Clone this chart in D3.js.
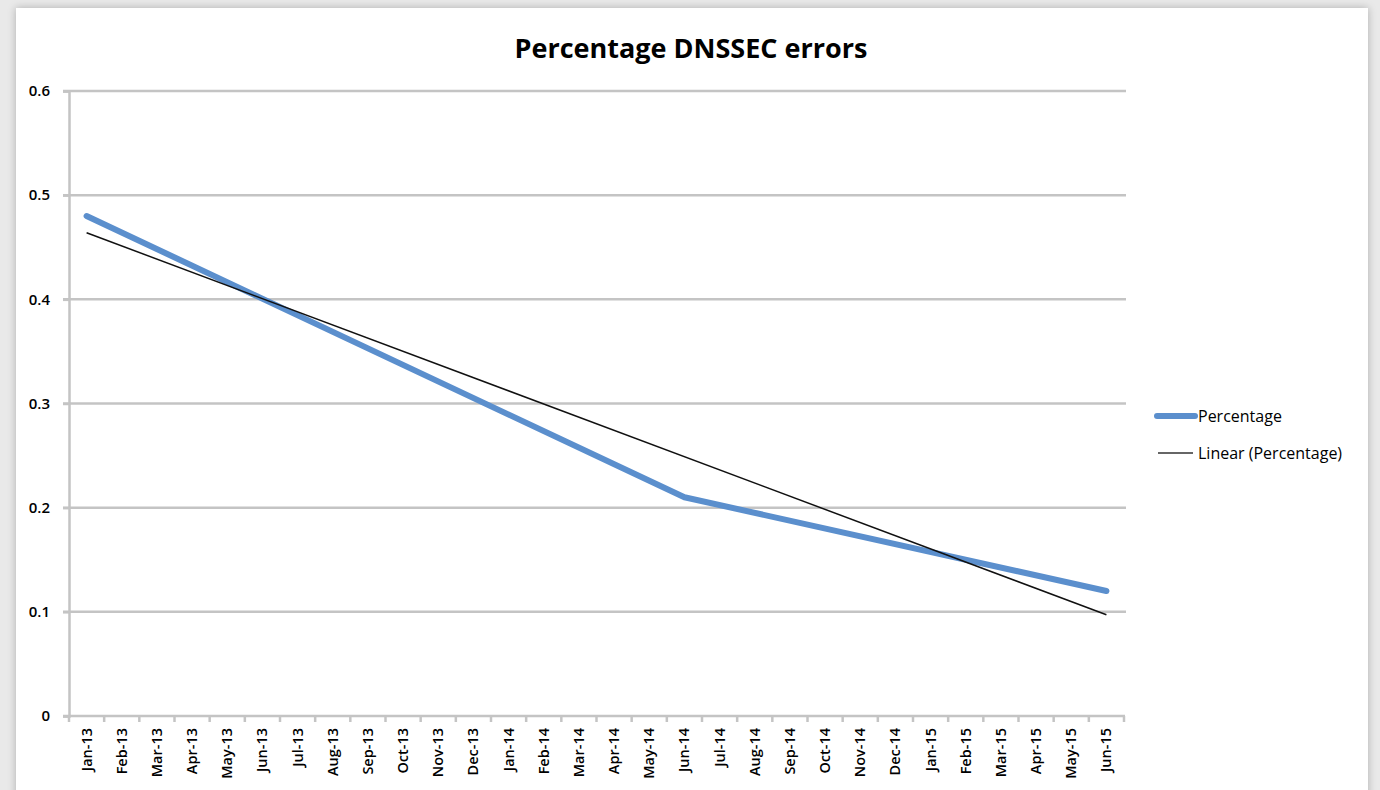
<!DOCTYPE html>
<html>
<head>
<meta charset="utf-8">
<script src="https://cdn.jsdelivr.net/npm/d3@7"></script>
<style>
  body { margin: 0; background: #e9e9e9; }
  #card { position: absolute; left: 16px; top: 8px; width: 1352px; height: 800px; background: #fff;
          box-shadow: 0 0 8px rgba(0,0,0,0.25); }
  svg { position: absolute; left: 0; top: 0; }
  text { font-family: "Open Sans", sans-serif; fill: #000; }
</style>
</head>
<body>
<div id="card"></div>
<svg></svg>
<script>
// chart values
const months = ["Jan-13","Feb-13","Mar-13","Apr-13","May-13","Jun-13","Jul-13","Aug-13","Sep-13","Oct-13","Nov-13","Dec-13",
  "Jan-14","Feb-14","Mar-14","Apr-14","May-14","Jun-14","Jul-14","Aug-14","Sep-14","Oct-14","Nov-14","Dec-14",
  "Jan-15","Feb-15","Mar-15","Apr-15","May-15","Jun-15"];
// only three months have a value, the rest are empty cells
const pctMonths = ["Jan-13", "Jun-14", "Jun-15"];
const pctValues = [0.48, 0.21, 0.12];
const yTicks = [0, 0.1, 0.2, 0.3, 0.4, 0.5, 0.6];

const w = 1380, h = 790;
const svg = d3.select("svg").attr("width", w).attr("height", h);

const plotL = 69, plotR = 1124, plotT = 91, plotB = 716;

const x = d3.scaleBand().domain(months).range([plotL, plotR]);
const cx = (m) => x(m) + x.bandwidth() / 2;
const y = d3.scaleLinear().domain([0, 0.6]).range([plotB, plotT]);

// title
svg.append("text")
  .attr("x", 691).attr("y", 58)
  .attr("text-anchor", "middle")
  .style("font-size", "27px").style("font-weight", "bold")
  .text("Percentage DNSSEC errors");

// gridlines
svg.append("g")
  .selectAll("line")
  .data(yTicks.filter(d => d > 0))
  .enter().append("line")
  .attr("x1", plotL - 6).attr("x2", plotR + 2)
  .attr("y1", d => y(d)).attr("y2", d => y(d))
  .attr("stroke", "#c4c4c4").attr("stroke-width", 2.5);

// y axis
const yAxis = d3.axisLeft(y).tickValues(yTicks).tickSize(6).tickPadding(13)
  .tickFormat(d => d === 0 ? "0" : d3.format(".1f")(d));
const gy = svg.append("g").attr("transform", "translate(" + plotL + ",0)").call(yAxis);
gy.select(".domain").attr("stroke", "#c4c4c4").attr("stroke-width", 2.5);
gy.selectAll(".tick line").attr("stroke", "#c4c4c4").attr("stroke-width", 2.5);
gy.selectAll("text").style("font-size", "15px").style("font-family", "Open Sans, sans-serif")
  .style("font-weight", 600).attr("fill", "#111");

// x axis
const xAxis = d3.axisBottom(x).tickSize(0).tickPadding(0);
const gx = svg.append("g").attr("transform", "translate(0," + plotB + ")").call(xAxis);
gx.select(".domain").attr("d", "M" + (plotL - 6) + ",0H" + (plotR + 1))
  .attr("stroke", "#c4c4c4").attr("stroke-width", 2.5);
gx.selectAll("text")
  .attr("transform", "rotate(-90)")
  .attr("x", -12).attr("y", 0).attr("dy", "0.35em")
  .attr("text-anchor", "end")
  .style("font-size", "14.5px").style("font-family", "Open Sans, sans-serif")
  .style("font-weight", 600).attr("fill", "#111");
// boundary ticks between categories
gx.selectAll(".edge")
  .data(months.concat(["end"]))
  .enter().append("line")
  .attr("class", "edge")
  .attr("x1", (d, i) => plotL + i * x.bandwidth())
  .attr("x2", (d, i) => plotL + i * x.bandwidth())
  .attr("y1", 0).attr("y2", 6)
  .attr("stroke", "#c4c4c4").attr("stroke-width", 2.5);

// series line (gaps connected)
const pts = pctMonths.map((m, i) => ({ m: m, v: pctValues[i] }));
const line = d3.line().x(d => cx(d.m)).y(d => y(d.v));
svg.append("path")
  .datum(pts)
  .attr("d", line)
  .attr("fill", "none")
  .attr("stroke", "#5b8fcd")
  .attr("stroke-width", 6)
  .attr("stroke-linecap", "round")
  .attr("stroke-linejoin", "round");

// linear trend over category index
const xs = pctMonths.map(m => months.indexOf(m));
const mx = d3.mean(xs), my = d3.mean(pctValues);
const slope = d3.sum(xs, (d, i) => (d - mx) * (pctValues[i] - my)) / d3.sum(xs, d => (d - mx) * (d - mx));
const icpt = my - slope * mx;
const trend = [months[0], months[months.length - 1]].map(m => ({ m: m, v: icpt + slope * months.indexOf(m) }));
svg.append("path")
  .datum(trend)
  .attr("d", line)
  .attr("fill", "none")
  .attr("stroke", "#111")
  .attr("stroke-width", 1.5);

// legend
const legend = svg.append("g");
legend.append("line")
  .attr("x1", 1157).attr("x2", 1195).attr("y1", 416).attr("y2", 416)
  .attr("stroke", "#5b8fcd").attr("stroke-width", 6).attr("stroke-linecap", "round");
legend.append("text").attr("x", 1198).attr("y", 422).style("font-size", "16px").text("Percentage");
legend.append("line")
  .attr("x1", 1158).attr("x2", 1193).attr("y1", 453).attr("y2", 453)
  .attr("stroke", "#333").attr("stroke-width", 1.5);
legend.append("text").attr("x", 1198).attr("y", 459).style("font-size", "16px").text("Linear (Percentage)");
</script>
</body>
</html>
